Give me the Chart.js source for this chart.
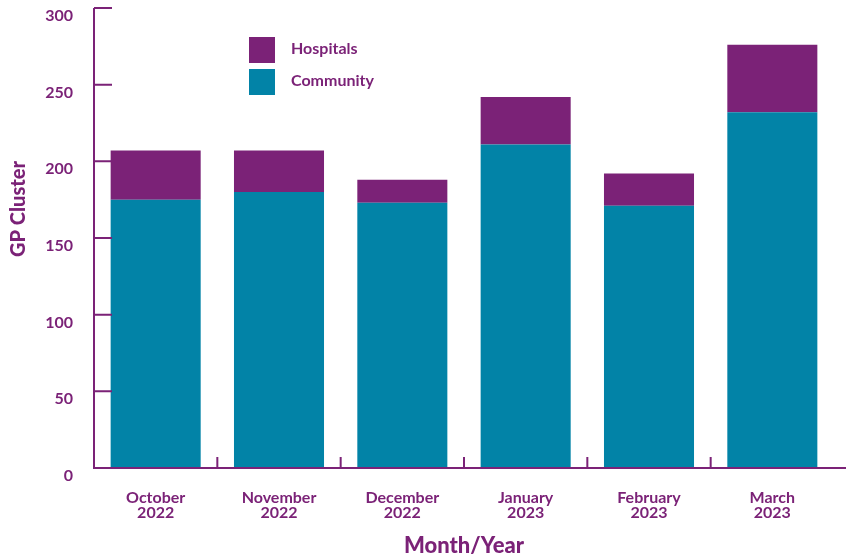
<!DOCTYPE html>
<html lang="en">
<head>
  <meta charset="UTF-8">
  <title>GP Cluster by Month</title>
  <script src="https://cdn.jsdelivr.net/npm/chart.js"></script>
  <style>
    body { margin: 0; background: #fff; }
    #wrap { position: relative; width: 846px; height: 557px; }
  </style>
</head>
<body>
  <div id="wrap"><canvas id="gpChart"></canvas></div>
  <script>
    // data
    const months = [['October', '2022'], ['November', '2022'], ['December', '2022'],
                    ['January', '2023'], ['February', '2023'], ['March', '2023']];
    const community = [175, 180, 173, 211, 171, 232];
    const hospitals = [32, 27, 15, 31, 21, 44];
    const yTicks = [0, 50, 100, 150, 200, 250, 300];

    const purple = '#7b2277';
    const teal = '#0283a7';
    const font = 'Lato, "Open Sans", sans-serif';

    // axes, inward tick marks, axis titles and legend drawn by hand
    const axesPlugin = {
      id: 'axesPlugin',
      afterDatasetsDraw(chart) {
        const ctx = chart.ctx;
        const x = chart.scales.x, y = chart.scales.y;
        const left = chart.chartArea.left, bottom = y.getPixelForValue(0);
        ctx.save();
        ctx.strokeStyle = purple;
        ctx.lineWidth = 2;
        ctx.beginPath();
        ctx.moveTo(left, y.getPixelForValue(300));
        ctx.lineTo(left, bottom);
        ctx.lineTo(846, bottom);
        yTicks.forEach(v => {
          const py = y.getPixelForValue(v);
          ctx.moveTo(left, py);
          ctx.lineTo(left + 18, py);
        });
        for (let i = 0; i < months.length - 1; i++) {
          const px = (x.getPixelForValue(i) + x.getPixelForValue(i + 1)) / 2;
          ctx.moveTo(px, bottom);
          ctx.lineTo(px, bottom - 11);
        }
        ctx.stroke();

        ctx.fillStyle = purple;
        ctx.font = '900 22px ' + font;
        ctx.textAlign = 'center';
        ctx.textBaseline = 'middle';
        ctx.fillText('Month/Year', (chart.chartArea.left + chart.chartArea.right) / 2, 546);
        ctx.save();
        ctx.translate(19, 209);
        ctx.rotate(-Math.PI / 2);
        ctx.font = '900 20px ' + font;
        ctx.fillText('GP Cluster', 0, 0);
        ctx.restore();

        // legend: hospitals on top, community below
        const items = [chart.data.datasets[1], chart.data.datasets[0]];
        ctx.font = 'bold 16px ' + font;
        ctx.textAlign = 'left';
        items.forEach((ds, i) => {
          const top = 37 + i * 32;
          ctx.fillStyle = ds.backgroundColor;
          ctx.fillRect(249, top, 26, 26);
          ctx.fillStyle = purple;
          ctx.fillText(ds.label, 291, top + 12);
        });
        ctx.restore();
      }
    };

    const ctx = document.getElementById('gpChart').getContext('2d');
    new Chart(ctx, {
      type: 'bar',
      data: {
        labels: months,
        datasets: [
          { label: 'Community', data: community, backgroundColor: teal },
          { label: 'Hospitals', data: hospitals, backgroundColor: purple }
        ]
      },
      options: {
        responsive: true,
        maintainAspectRatio: false,
        animation: false,
        layout: { padding: { top: 8, right: 12, left: 0, bottom: 0 } },
        datasets: { bar: { barPercentage: 0.73, categoryPercentage: 1 } },
        plugins: { legend: { display: false }, tooltip: { enabled: false } },
        scales: {
          x: {
            stacked: true,
            grid: { display: false },
            border: { display: false },
            ticks: {
              color: purple,
              padding: 15,
              maxRotation: 0,
              font: { family: font, size: 16, weight: 'bold', lineHeight: 0.9 }
            },
            afterFit(scale) {
              scale.height = 89;
              scale.paddingLeft = 0;
              scale.paddingRight = 0;
            }
          },
          y: {
            stacked: true,
            min: 0,
            max: 300,
            grid: { display: false },
            border: { display: false },
            afterBuildTicks(scale) { scale.ticks = yTicks.map(v => ({ value: v })); },
            ticks: {
              color: purple,
              padding: 13,
              labelOffset: 8,
              font: { family: font, size: 16, weight: 'bold' }
            },
            afterFit(scale) {
              scale.width = 94;
              scale.paddingTop = 0;
              scale.paddingBottom = 0;
            }
          }
        }
      },
      plugins: [axesPlugin]
    });
  </script>
</body>
</html>
